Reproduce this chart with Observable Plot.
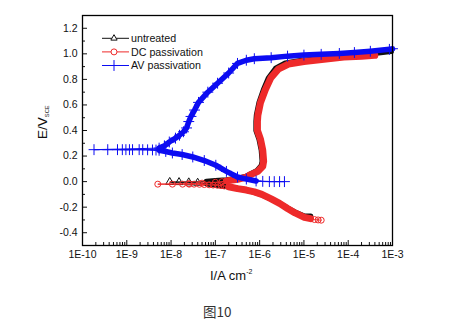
<!DOCTYPE html>
<html><head><meta charset="utf-8">
<script src="https://cdn.jsdelivr.net/npm/d3@7"></script>
<script src="https://cdn.jsdelivr.net/npm/@observablehq/plot@0.6"></script>
<style>
html,body{margin:0;padding:0;background:#fff;}
#wrap{position:relative;width:460px;height:325px;overflow:hidden;font-family:"Liberation Sans",Arial,sans-serif;}
#chart{position:absolute;left:0;top:0;}
#ov{position:absolute;left:0;top:0;pointer-events:none;}
#cap{position:absolute;left:203px;top:305px;font-family:"Noto Sans CJK SC",sans-serif;font-size:13.5px;color:#333;line-height:1;}
</style></head><body>
<div id="wrap"><div id="chart"></div><svg id="ov" width="460" height="325"></svg><div id="cap">图10</div></div>
<script>
// ---- data (log10 of current density, A cm^-2 ; potential V vs SCE) ----
const seriesNames = ["untreated", "DC passivation", "AV passivation"];
const seriesColors = ["#111111", "#ee2a2a", "#0c0cf2"];
const seriesSymbols = ["triangle", "circle", "plus"];

const xMajor = [1e-10, 1e-9, 1e-8, 1e-7, 1e-6, 1e-5, 1e-4, 1e-3];
const yMajor = [-0.4, -0.2, 0.0, 0.2, 0.4, 0.6, 0.8, 1.0, 1.2];
const yMinor = [-0.5, -0.3, -0.1, 0.1, 0.3, 0.5, 0.7, 0.9, 1.1, 1.3];

// untreated
const untreatedCathLogI = [-4.85, -5.0, -5.2, -5.37, -5.55, -5.74, -5.95, -6.12, -6.3, -6.5, -6.84, -7.2];
const untreatedCathE    = [-0.272, -0.27, -0.24, -0.208, -0.17, -0.137, -0.103, -0.082, -0.066, -0.053, -0.032, -0.016];
const untreatedCorrLogI = [-7.4, -7.6, -7.82, -8.03];
const untreatedCorrE    = [-0.01, -0.007, -0.005, -0.004];
const untreatedAnodLogI = [-7.2, -7.0, -6.75, -6.5, -6.3, -6.2, -6.06, -5.96, -5.94, -5.96, -6.01, -6.08, -6.08, -6.07, -6.01, -5.91, -5.8, -5.64, -5.42, -5.05, -4.6, -4.1, -3.5, -3.03];
const untreatedAnodE    = [0.0, 0.006, 0.012, 0.024, 0.04, 0.06, 0.085, 0.125, 0.16, 0.245, 0.33, 0.40, 0.47, 0.52, 0.62, 0.72, 0.81, 0.885, 0.927, 0.948, 0.962, 0.98, 1.0, 1.02];

// DC passivation
const dcTailLogI = [-4.61, -4.68, -4.76];
const dcTailE    = [-0.302, -0.30, -0.297];
const dcCathLogI = [-4.85, -4.99, -5.2, -5.37, -5.55, -5.74, -5.95, -6.12, -6.3, -6.5, -6.7];
const dcCathE    = [-0.29, -0.28, -0.245, -0.21, -0.17, -0.135, -0.10, -0.08, -0.066, -0.055, -0.04];
const dcCorrLogI = [-6.80, -6.87, -6.95, -7.05, -7.14, -7.25, -7.36, -7.48, -7.59, -7.74, -7.97, -8.30];
const dcCorrE    = [-0.034, -0.031, -0.029, -0.027, -0.025, -0.023, -0.021, -0.02, -0.02, -0.02, -0.02, -0.02];
const dcRetLogI  = [-7.6, -7.3, -7.0, -6.85];
const dcRetE     = [-0.016, -0.012, -0.005, 0.0];
const dcAnodLogI = [-6.75, -6.5, -6.3, -6.2, -6.04, -5.93, -5.91, -5.93, -5.98, -6.05, -6.05, -6.04, -5.98, -5.87, -5.75, -5.58, -5.35, -5.0, -4.6, -4.1, -3.7, -3.4];
const dcAnodE    = [0.006, 0.018, 0.035, 0.055, 0.08, 0.12, 0.16, 0.245, 0.33, 0.40, 0.47, 0.52, 0.62, 0.72, 0.81, 0.88, 0.92, 0.94, 0.955, 0.975, 0.982, 0.988];

// AV passivation
const avTailLogI = [-5.44, -5.55, -5.67, -5.78, -5.93];
const avTailE    = [0.0, 0.0, 0.0, 0.0, 0.002];
const avCathLogI = [-6.08, -6.3, -6.5, -6.75, -6.99, -7.25, -7.51, -7.75, -7.97, -8.12, -8.27];
const avCathE    = [0.005, 0.02, 0.036, 0.08, 0.128, 0.165, 0.193, 0.212, 0.224, 0.236, 0.245];
const avCorrLogI = [-8.34, -8.42, -8.53, -8.64, -8.72, -8.87, -8.94, -9.02, -9.10, -9.21, -9.43, -9.74];
const avCorrE    = [0.247, 0.248, 0.249, 0.25, 0.25, 0.25, 0.25, 0.25, 0.25, 0.25, 0.25, 0.25];
const avAnodLogI = [-8.27, -8.15, -8.04, -7.9, -7.81, -7.72, -7.65, -7.6, -7.55, -7.47, -7.38, -7.17, -6.95, -6.7, -6.5, -6.3, -6.12, -5.74, -5.37, -5.0, -4.61, -4.2, -3.86, -3.5, -3.07, -3.0];
const avAnodE    = [0.262, 0.28, 0.31, 0.34, 0.363, 0.39, 0.42, 0.47, 0.51, 0.56, 0.62, 0.70, 0.77, 0.85, 0.925, 0.95, 0.962, 0.97, 0.982, 0.99, 0.996, 1.003, 1.01, 1.02, 1.035, 1.04];

// ---- build tables ----
function seg(series, name, logI, E, band) {
  return logI.map((l, i) => ({series, seg: series + "-" + name, band, I: Math.pow(10, l), E: E[i]}));
}
const tables = [
  [...seg("untreated", "cath", untreatedCathLogI, untreatedCathE, true),
   ...seg("untreated", "corr", untreatedCorrLogI, untreatedCorrE, false),
   ...seg("untreated", "anod", untreatedAnodLogI, untreatedAnodE, true)],
  [...seg("dc", "tail", dcTailLogI, dcTailE, false),
   ...seg("dc", "cath", dcCathLogI, dcCathE, true),
   ...seg("dc", "corr", dcCorrLogI, dcCorrE, false),
   ...seg("dc", "ret", dcRetLogI, dcRetE, false),
   ...seg("dc", "anod", dcAnodLogI, dcAnodE, true)],
  [...seg("av", "tail", avTailLogI, avTailE, false),
   ...seg("av", "cath", avCathLogI, avCathE, true),
   ...seg("av", "corr", avCorrLogI, avCorrE, false),
   ...seg("av", "anod", avAnodLogI, avAnodE, true)]
];
const bandWidths = [5.5, 7, 5.5];
const dotR = [3, 3, 3.6];
const dotsOnBand = [false, false, true];

const xMinor = [];
for (let k = -10; k < -3; k++) for (let m = 2; m <= 9; m++) xMinor.push(m * Math.pow(10, k));

const marks = [];
tables.forEach((rows, s) => {
  const c = seriesColors[s];
  marks.push(Plot.line(rows, {x: "I", y: "E", stroke: c, strokeWidth: 1}));
  marks.push(Plot.line(rows.filter(d => d.band), {x: "I", y: "E", z: "seg", stroke: c, strokeWidth: bandWidths[s], strokeLinejoin: "round", strokeLinecap: "round"}));
  marks.push(Plot.dot(dotsOnBand[s] ? rows : rows.filter(d => !d.band), {x: "I", y: "E", symbol: () => seriesSymbols[s], r: dotR[s], stroke: c, fill: "none", strokeWidth: 1}));
});

const chart = Plot.plot({
  width: 460, height: 295,
  marginLeft: 82, marginRight: 68, marginTop: 15, marginBottom: 50,
  x: {type: "log", domain: [1e-10, 1e-3]},
  y: {domain: [-0.5, 1.3]},
  symbol: {type: "identity"},
  style: {fontFamily: "'Liberation Sans', Arial, sans-serif", fontSize: "10.5px", color: "#111", background: "white"},
  marks: [
    ...marks,
    Plot.axisX(xMinor, {anchor: "bottom", tickSize: -3, tickFormat: () => "", label: null}),
    Plot.axisX(xMajor, {anchor: "bottom", tickSize: -5, tickPadding: 10, tickFormat: d => "1E" + Math.round(Math.log10(d)), label: null}),
    Plot.axisY(yMinor, {anchor: "left", tickSize: -3, tickFormat: () => "", label: null}),
    Plot.axisY(yMajor, {anchor: "left", tickSize: -5, tickPadding: 10, tickFormat: d => d.toFixed(1), label: null}),
    Plot.frame({stroke: "#000", strokeWidth: 1.3})
  ]
});
document.getElementById("chart").appendChild(chart);

// ---- legend and axis titles (overlay) ----
const ov = d3.select("#ov");
const lg = ov.append("g").attr("font-family", "'Liberation Sans', Arial, sans-serif").attr("font-size", 10.7).attr("fill", "#111");
const symMap = {triangle: d3.symbolTriangle2, circle: d3.symbolCircle, plus: d3.symbolPlus};
seriesNames.forEach((name, i) => {
  const y = 38.3 + i * 13.6;
  lg.append("line").attr("x1", 102).attr("x2", 129).attr("y1", y).attr("y2", y).attr("stroke", seriesColors[i]).attr("stroke-width", 1);
  lg.append("path").attr("transform", `translate(114,${y})`)
    .attr("d", d3.symbol(symMap[seriesSymbols[i]], Math.PI * dotR[i] * dotR[i])())
    .attr("fill", "white").attr("stroke", seriesColors[i]).attr("stroke-width", 1);
  lg.append("text").attr("x", 131).attr("y", y).attr("dy", "0.36em").text(name);
});
const yt = ov.append("text").attr("transform", "translate(47,139) rotate(-90)")
  .attr("font-family", "'Liberation Sans', Arial, sans-serif").attr("font-size", 13.5).attr("fill", "#111");
yt.append("tspan").text("E/V");
yt.append("tspan").attr("font-size", 5.8).attr("dy", 2).text("SCE");
const xt = ov.append("text").attr("x", 210).attr("y", 280)
  .attr("font-family", "'Liberation Sans', Arial, sans-serif").attr("font-size", 13).attr("fill", "#111");
xt.append("tspan").text("I/A cm");
xt.append("tspan").attr("font-size", 7).attr("dy", -6).text("-2");
</script>
</body></html>
